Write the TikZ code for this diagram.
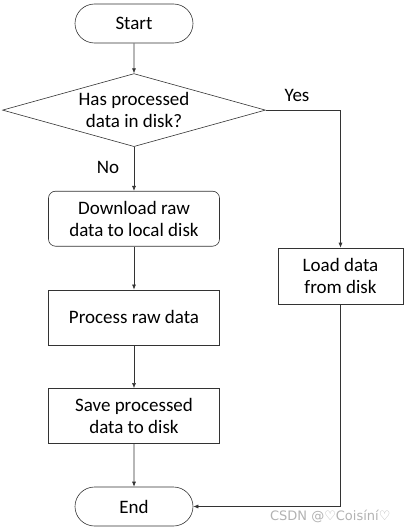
\documentclass[tikz,border=0pt]{standalone}
\usepackage{fontspec}
\setmainfont{Carlito}
\newfontfamily\wmfont{DejaVu Sans}
\usetikzlibrary{arrows.meta,positioning,shapes.geometric,shapes.misc}
\tikzset{%
   line/.style={
      draw=black!80,
      line width=0.6pt
   },
   arr/.style={
      line,
      -{Latex[length=5pt,width=4pt]}
   },
   terminal/.style={
      line,
      rounded rectangle,
      minimum width=118pt,
      minimum height=39pt,
      inner sep=0pt,
      font=\fontsize{19}{22}\selectfont
   },
   decision/.style={
      line,
      diamond,
      aspect=3.6,
      minimum width=263pt,
      minimum height=73pt,
      inner sep=0pt,
      align=center,
      font=\fontsize{19}{22}\selectfont
   },
   procbox/.style={
      line,
      rectangle,
      minimum width=171pt,
      minimum height=55pt,
      inner sep=0pt,
      align=center,
      font=\fontsize{19}{22}\selectfont
   },
   rprocbox/.style={
      procbox,
      rounded corners=7pt
   },
   lbl/.style={
      font=\fontsize{19}{22}\selectfont
   },
}

\begin{document}
\begin{tikzpicture}[x=1pt, y=-1pt]
      \useasboundingbox (0,0) rectangle (408,530);
      \node[terminal] (start) at (134,23.5) {Start};
      \node[decision, below=30pt of start] (hasdata) {Has processed\\data in disk?};
      \node[rprocbox, below=44pt of hasdata] (download) {Download raw\\data to local disk};
      \node[procbox, below=43pt of download] (process) {Process raw data};
      \node[procbox, below=43pt of process] (save) {Save processed\\data to disk};
      \node[terminal, below=43pt of save] (end) {End};
      \node[procbox, minimum width=125pt, minimum height=56pt] (load) at (340.5,276) {Load data\\from disk};
      \coordinate (yescorner) at (load.north |- hasdata.east);
      \coordinate (loadcorner) at (load.south |- end.east);
      \draw[arr] (start) -- (hasdata);
      \draw[arr] (hasdata) -- (download);
      \draw[arr] (download) -- (process);
      \draw[arr] (process) -- (save);
      \draw[arr] (save) -- (end);
      \draw[arr] (hasdata.east) -- (yescorner) -- (load.north);
      \draw[arr] (load.south) -- (loadcorner) -- (end.east);
      \node[lbl] (yes) at (297,95) {Yes};
      \node[lbl] (no) at (108,167) {No};
      \node[anchor=east, text=black!30, font=\wmfont\fontsize{13}{15}\selectfont] (wm) at (394,516) {CSDN @♡Coisíní♡};
   \end{tikzpicture}
\end{document}
